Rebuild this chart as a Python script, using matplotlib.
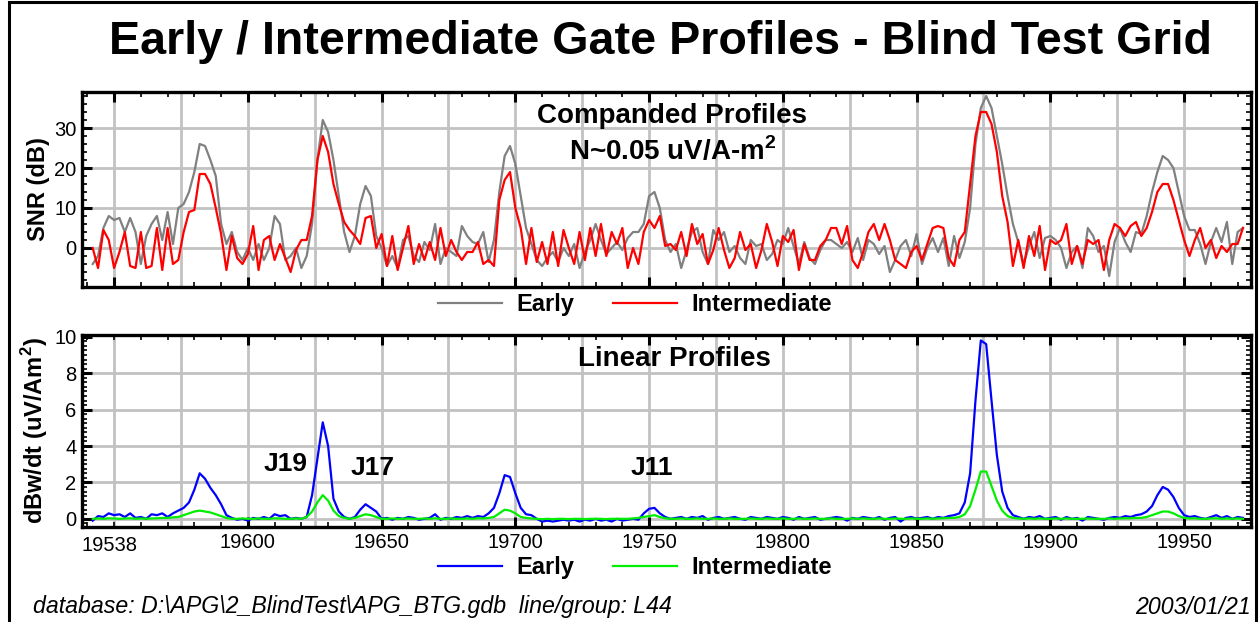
import matplotlib
matplotlib.use("Agg")
import matplotlib.pyplot as plt
import numpy as np
from matplotlib.ticker import MultipleLocator
from matplotlib.patches import Rectangle

plt.rcParams['font.family'] = ['Liberation Sans', 'DejaVu Sans']
plt.rcParams['mathtext.fontset'] = 'custom'
plt.rcParams['mathtext.rm'] = 'Liberation Sans'
plt.rcParams['mathtext.bf'] = 'Liberation Sans:bold'

# fiducials along line L44 (every 2nd station)
fid = np.arange(19542, 19973, 2)

# companded SNR (dB)
snr_early = [
    -4, -2, 5, 8, 7, 7.5, 4, 7.5, 4, -4,
    3, 6, 8, 2, 9, 1, 10, 11, 14, 19,
    26, 25.5, 22, 18, 6, 1, 4, -1, -3, 0,
    -3, 1, -3, 0, 8, 6, -3, -2, 0, -5,
    -2, 6, 22, 32, 29, 22, 13, 4, -1, 3,
    11, 15.5, 13, 3, 0, -4.5, -2, -5, 2, 3,
    -2, -3.5, 1.5, -0.5, 6, -4, 0, -1, -2, 5.5,
    3, 1.5, 1, 4, -3.5, 2, 14, 23, 25.5, 21,
    13, 5, 1, -3, -4.5, -2.5, -1, -3.5, 0, -2,
    1, -5, -1, 2, 6, 2, -1.5, 0, 1.5, -0.5,
    2.5, 4, 4, 6, 13, 14, 10, 2, -1, 1,
    -5, -0.5, 4, 5, -1, -4, 4.5, 2, 4, -1,
    0.5, -2.5, -4, 2, 0.5, 1, -3, -1.5, 2, 1,
    5, 0.5, -4, 1.5, -2.5, -4, -0.5, 2, 2, 1,
    0, 1.5, -1, 2.5, -3, 2, 1, -1.5, 0.5, -6,
    -3, 0.5, 2, -2, 3.5, -4, 0, 2.5, -1, 2.5,
    -4.5, 3, -2.5, 1.5, 10, 26, 35, 38, 35, 28,
    21, 13, 6, 1.5, -4, 0.5, 4, -2.5, 2.5, 3,
    2, 0, -5, -1, 0.5, -5, 5, 3, -1, 0.5,
    -7, 1.5, 5, 1.5, -1, 4, 3.5, 8, 14, 19,
    23, 22, 20, 14, 8, 4.5, 4.5, 1, -4, 1.5,
    5, 1.5, 6.5, -4, 4, 5,
]
snr_inter = [
    0, -5, 4.5, 2, -5, -1, 4, -4.5, -5, 4,
    -5, -4.5, 5, -5.5, 5, -4, -3, 4, 9, 9.5,
    18.5, 18.5, 16, 10, 3.5, -5.5, 3, -2.5, -4, -1.5,
    5.5, -5.5, 2, 3, -3, 1, -2.5, -6, -0.5, 2,
    2, 8, 22, 28, 24, 16, 11, 6.5, 4.5, 3,
    1, 7.5, 8, 0, 3.5, -4.5, 3, -5.5, 0, 5.5,
    -4, 1, -3, 1.5, -3, 5, -2, 2, -1, -3,
    -1, -1, 1.5, -4, -3, -4.5, 12, 17, 19, 10,
    5, -4, 5, -3.5, 1.5, -4, 4, -4.5, 4.5, 0,
    -4, 4, -3, 5, -2, 6, -2, 4, 1, 5,
    -5, 0, -4, 4, 7, 5, 8, 0.5, 1, -0.5,
    4, -2, 6, 1, 3.5, -4, -0.5, 5, -0.5, -5,
    -2.5, 4, -0.5, 1, -5, -0.5, 6, 1.5, -4.5, 3,
    1.5, 4.5, -5.5, 1, -3, -3, 0.5, 2, 5, 5,
    1, 5.5, -3, -5, -1, 4, 6, 2, 6, 2,
    -3, -4, -5, -1, 0.5, -3, 1, 5, 5.5, 5,
    -2.5, -4.5, 2, 4, 16, 28, 34, 34, 31, 24,
    13, 6.5, -4.5, 2, -5, 3, -2, 5.5, -5.5, 2,
    1, 2, 6, -4, 0.5, -4, 2, 1, 2, -5.5,
    2, 6, 5, 3, 5.5, 6.5, 3, 5, 9, 14,
    16, 16, 12, 7, 2, -2, 2, 5, 0, 2,
    -2.5, 0.5, -1, 1, 1, 5,
]

# linear dBz/dt (uV/Am^2)
lin_early = [
    -0.1, 0.15, 0.1, 0.3, 0.2, 0.25, 0.1, 0.3, 0.05, 0.1,
    0.0, 0.25, 0.2, 0.3, 0.1, 0.3, 0.45, 0.6, 0.9, 1.6,
    2.5, 2.2, 1.7, 1.3, 0.8, 0.2, 0.05, -0.05, 0.0, -0.1,
    0.05, 0.0, 0.1, 0.0, 0.25, 0.15, 0.2, 0.0, 0.05, 0.0,
    0.1, 1.3, 3.3, 5.3, 4.0, 1.1, 0.4, 0.1, 0.0, 0.1,
    0.5, 0.8, 0.6, 0.4, 0.0, 0.05, -0.05, 0.05, 0.0, 0.1,
    0.05, -0.05, 0.0, 0.05, 0.25, -0.05, 0.05, 0.0, 0.1, 0.05,
    0.15, 0.05, 0.15, 0.1, 0.3, 0.6, 1.4, 2.4, 2.3, 1.4,
    0.6, 0.25, 0.2, 0.0, -0.15, -0.1, -0.15, -0.1, -0.05, -0.1,
    -0.05, -0.15, -0.05, -0.1, 0.0, -0.1, -0.05, -0.15, 0.0, -0.1,
    -0.05, 0.0, -0.05, 0.3, 0.55, 0.6, 0.3, 0.1, 0.0, 0.05,
    0.1, 0.0, 0.1, 0.05, 0.15, -0.05, 0.05, 0.1, 0.0, 0.05,
    0.1, 0.0, -0.05, 0.1, 0.05, 0.0, 0.1, 0.05, 0.0, 0.1,
    0.05, -0.05, 0.1, 0.0, 0.05, 0.1, -0.05, 0.0, 0.05, 0.1,
    0.05, -0.1, 0.05, 0.0, 0.1, 0.05, 0.0, 0.1, -0.05, 0.05,
    0.1, -0.15, 0.05, 0.1, 0.0, 0.05, 0.1, 0.0, 0.1, 0.05,
    0.15, 0.2, 0.3, 0.9, 2.5, 6.5, 9.8, 9.6, 6.5, 3.5,
    1.5, 0.6, 0.2, 0.1, 0.0, 0.1, 0.05, 0.15, 0.0, 0.05,
    0.1, -0.05, 0.1, 0.0, 0.05, -0.1, 0.1, 0.05, 0.0, -0.05,
    0.05, 0.1, 0.05, 0.15, 0.1, 0.2, 0.25, 0.4, 0.7, 1.3,
    1.75, 1.6, 1.2, 0.6, 0.2, 0.1, 0.15, 0.05, 0.0, 0.1,
    0.2, 0.05, 0.15, 0.0, 0.1, 0.05,
]
lin_inter = [
    0.0, 0.02, 0.0, 0.03, 0.02, 0.0, 0.02, 0.03, 0.0, 0.02,
    0.0, 0.02, 0.03, 0.05, 0.05, 0.08, 0.1, 0.2, 0.3, 0.4,
    0.45, 0.4, 0.35, 0.25, 0.15, 0.05, 0.0, 0.0, 0.02, 0.0,
    0.0, 0.02, 0.0, 0.0, 0.03, 0.02, 0.0, 0.0, 0.02, 0.0,
    0.1, 0.4, 0.9, 1.3, 1.0, 0.45, 0.15, 0.05, 0.0, 0.05,
    0.15, 0.25, 0.2, 0.1, 0.0, 0.0, 0.02, 0.0, 0.0, 0.02,
    0.0, 0.0, 0.02, 0.0, 0.03, 0.0, 0.0, 0.02, 0.0, 0.0,
    0.02, 0.0, 0.03, 0.02, 0.05, 0.1, 0.3, 0.5, 0.45, 0.3,
    0.1, 0.05, 0.02, 0.0, -0.02, 0.0, -0.02, 0.0, 0.0, -0.02,
    0.0, 0.0, -0.02, 0.0, 0.0, 0.0, -0.02, 0.0, 0.0, 0.0,
    0.0, 0.02, 0.05, 0.1, 0.15, 0.2, 0.1, 0.03, 0.0, 0.0,
    0.02, 0.0, 0.0, 0.02, 0.0, 0.0, 0.02, 0.0, 0.0, 0.02,
    0.0, 0.0, 0.0, 0.02, 0.0, 0.0, 0.02, 0.0, 0.0, 0.02,
    0.0, 0.0, 0.02, 0.0, 0.0, 0.02, 0.0, 0.0, 0.02, 0.0,
    0.0, 0.0, 0.02, 0.0, 0.02, 0.0, 0.0, 0.02, 0.0, 0.0,
    0.02, 0.0, 0.0, 0.02, 0.0, 0.0, 0.02, 0.0, 0.02, 0.03,
    0.05, 0.05, 0.1, 0.25, 0.7, 1.6, 2.6, 2.6, 1.8, 1.0,
    0.45, 0.15, 0.05, 0.02, 0.0, 0.02, 0.0, 0.02, 0.0, 0.0,
    0.02, 0.0, 0.02, 0.0, 0.0, 0.0, 0.02, 0.0, 0.0, 0.0,
    0.02, 0.0, 0.02, 0.03, 0.03, 0.05, 0.05, 0.1, 0.2, 0.3,
    0.4, 0.4, 0.3, 0.15, 0.05, 0.02, 0.03, 0.0, 0.0, 0.02,
    0.03, 0.0, 0.02, 0.0, 0.02, 0.0,
]

anomalies = ['J19', 'J17', 'J11']
anom_x = [19614, 19646.5, 19751]
anom_y = [3.0, 2.8, 2.8]

xticks = [19600, 19650, 19700, 19750, 19800, 19850, 19900, 19950]
x0, x1 = 19538, 19975

fig = plt.figure(figsize=(12.6, 6.22), dpi=100)
W, H = 1260, 622


def px_axes(l, t, r, b):
    return fig.add_axes([l / W, 1 - b / H, (r - l) / W, (b - t) / H])


ax1 = px_axes(82, 92, 1251, 287)
ax2 = px_axes(82, 335, 1251, 527)

for ax in (ax1, ax2):
    ax.set_xlim(x0, x1)
    for v in range(19550, 19976, 25):
        ax.axvline(v, color='#c2c2c2', lw=2.0, zorder=0)
    ax.xaxis.set_major_locator(MultipleLocator(50))
    ax.xaxis.set_minor_locator(MultipleLocator(10))
    ax.tick_params(which='both', direction='in', top=True, right=True,
                   labelsize=14.5, pad=4)
    ax.tick_params(which='major', length=7, width=2.2)
    ax.tick_params(which='minor', length=3.5, width=1.2)
    for s in ax.spines.values():
        s.set_linewidth(2.4)

leg_kw = dict(loc='center', ncol=2, frameon=False, handlelength=2.7,
              handletextpad=0.6, columnspacing=1.65,
              prop={'weight': 'bold', 'size': 17})
leg_x = (635 - 82) / 1169

# companded panel
ax1.set_ylim(-9.75, 39)
ax1.yaxis.set_major_locator(MultipleLocator(10))
ax1.yaxis.set_minor_locator(MultipleLocator(2))
for v in (0, 10, 20, 30):
    ax1.axhline(v, color='#c2c2c2', lw=2.0, zorder=0)
ax1.set_yticks([0, 10, 20, 30])
ax1.tick_params(axis='x', labelbottom=False)
l1, = ax1.plot(fid, snr_early, color='#808080', lw=1.6, label='Early')
l2, = ax1.plot(fid, snr_inter, color='#ff0000', lw=1.6, label='Intermediate')
ax1.set_ylabel('SNR (dB)', fontsize=17, fontweight='bold')
ax1.yaxis.set_label_coords(-0.027, 0.5)
ax1.text(0.505, 0.875, 'Companded Profiles', transform=ax1.transAxes,
         ha='center', va='center', fontsize=20, fontweight='bold')
ax1.text(0.505, 0.695, r'N~0.05 uV/A-m$^{\mathbf{2}}$', transform=ax1.transAxes,
         ha='center', va='center', fontsize=20, fontweight='bold')
ax1.legend(handles=[l1, l2], bbox_to_anchor=(leg_x, -0.09), **leg_kw)

# linear panel
ax2.set_ylim(-0.45, 10.1)
ax2.yaxis.set_major_locator(MultipleLocator(2))
ax2.yaxis.set_minor_locator(MultipleLocator(0.25))
for v in (0, 2, 4, 6, 8):
    ax2.axhline(v, color='#c2c2c2', lw=2.0, zorder=0)
ax2.set_xticks(xticks)
ax2.text(x0, -0.045, '19538', transform=ax2.get_xaxis_transform(),
         ha='left', va='top', fontsize=14.5)
l3, = ax2.plot(fid, lin_early, color='#0000ff', lw=1.6, label='Early')
l4, = ax2.plot(fid, lin_inter, color='#00ee00', lw=1.6, label='Intermediate')
for name, xx, yy in zip(anomalies, anom_x, anom_y):
    ax2.text(xx, yy, name, ha='center', va='center', fontsize=19, fontweight='bold')
ax2.set_ylabel(r'dBw/dt (uV/Am$^{\mathbf{2}}$)', fontsize=17, fontweight='bold')
ax2.yaxis.set_label_coords(-0.027, 0.5)
ax2.text(0.507, 0.875, 'Linear Profiles', transform=ax2.transAxes,
         ha='center', va='center', fontsize=20, fontweight='bold')
ax2.legend(handles=[l3, l4], bbox_to_anchor=(leg_x, -0.21), **leg_kw)

fig.text(660 / W, 1 - 42 / H, 'Early / Intermediate Gate Profiles - Blind Test Grid',
         ha='center', va='center', fontsize=33.6, fontweight='bold')

foot = ['Liberation Sans Narrow', 'Liberation Sans']
fig.text(33 / W, 1 - 607 / H,
         r'database: D:\APG\2_BlindTest\APG_BTG.gdb  line/group: L44',
         ha='left', va='center', fontsize=16.7, style='italic', family=foot)
fig.text(1251 / W, 1 - 607 / H, '2003/01/21', ha='right', va='center',
         fontsize=16.7, style='italic', family=foot)

# outer frame
fig.add_artist(Rectangle((9 / W, -0.05), (1256 - 9) / W, 1.05 - 1.5 / H,
                         transform=fig.transFigure, fill=False,
                         edgecolor='black', lw=2.2))

fig.savefig('out.png', dpi=100)
